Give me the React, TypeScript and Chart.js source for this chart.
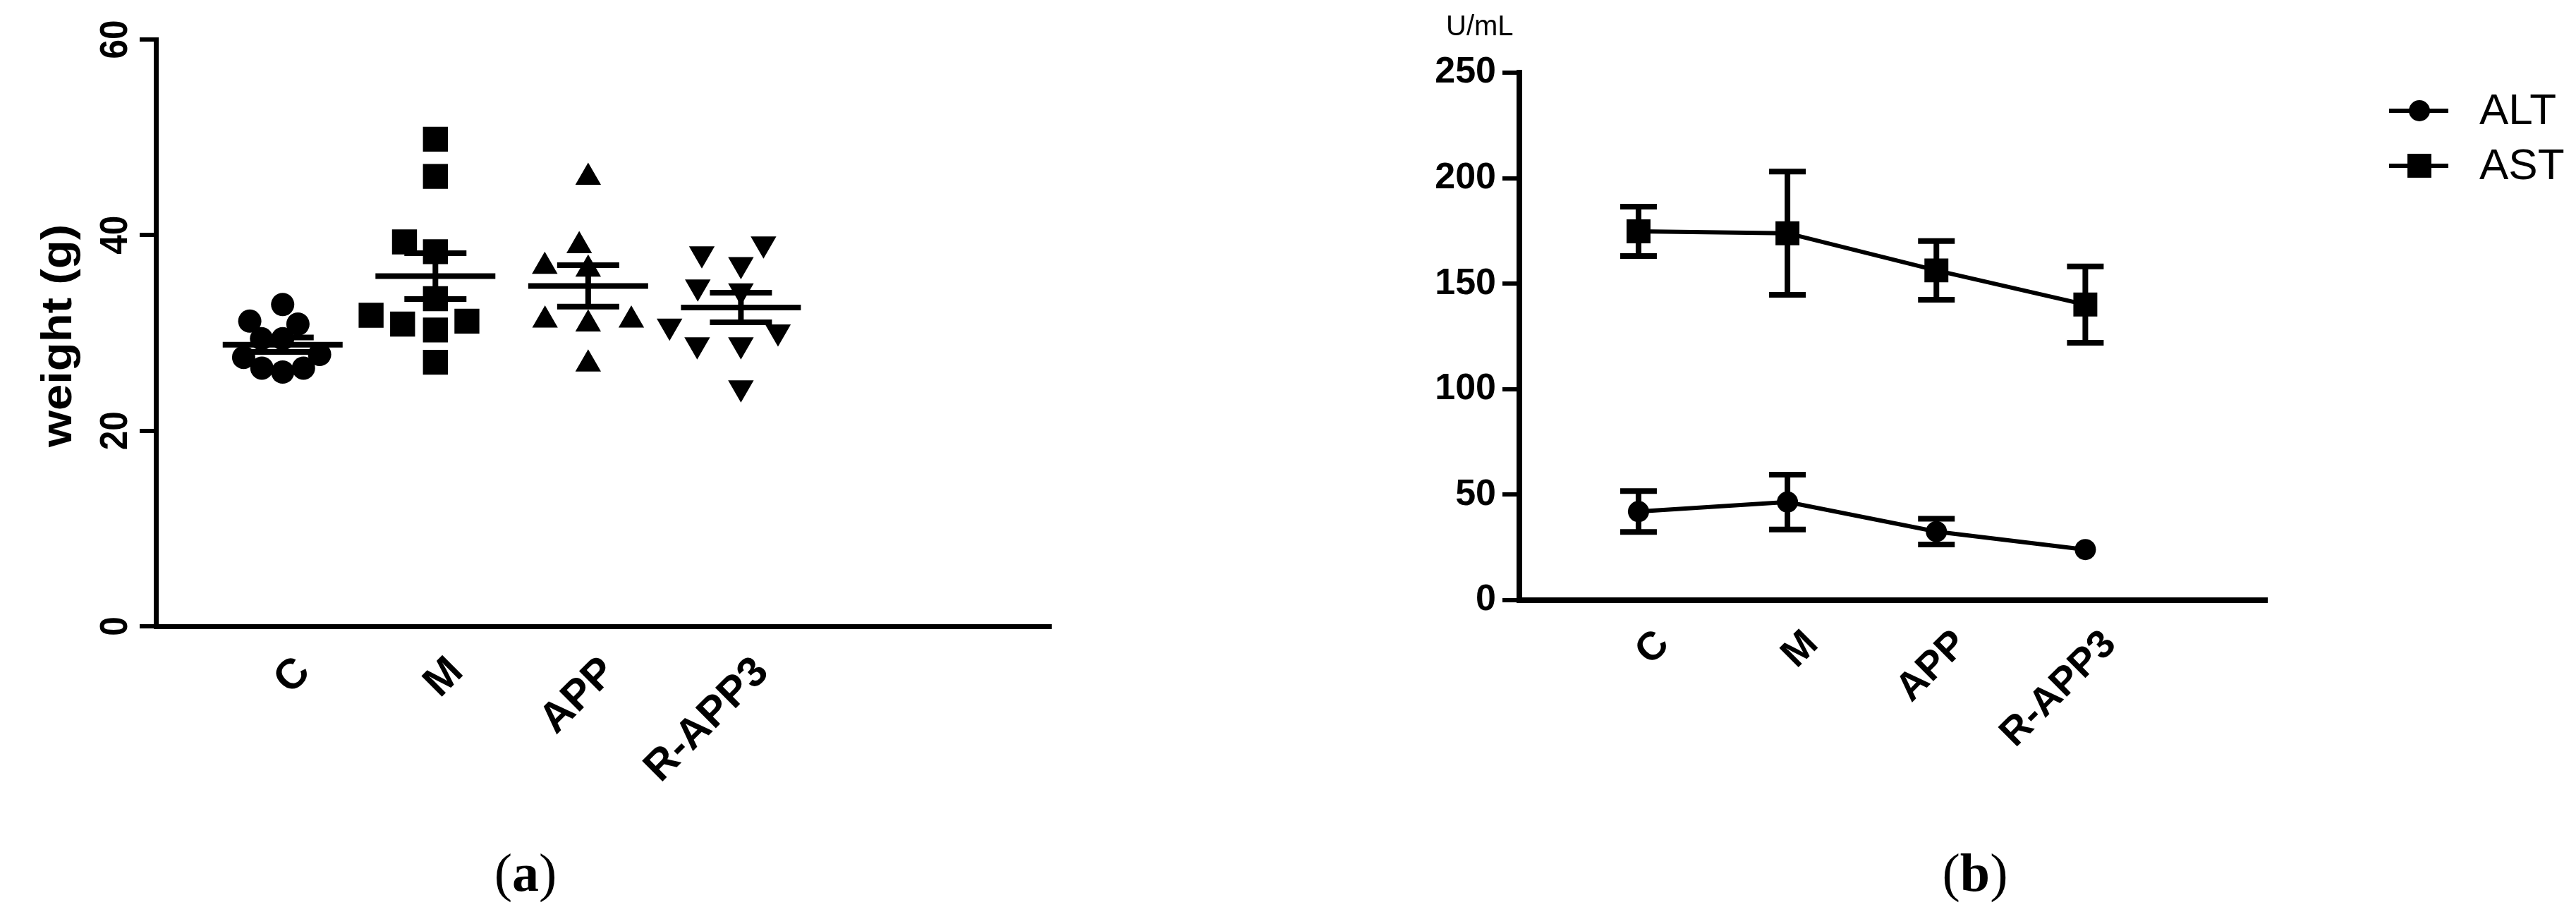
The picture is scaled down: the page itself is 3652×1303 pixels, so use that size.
import React, { useEffect, useRef } from 'react';
import { Chart, registerables } from 'chart.js';
Chart.register(...registerables);

// ---------- data ----------
const CATEGORIES = ['C', 'M', 'APP', 'R-APP3'];

// panel (a): body weight (g), individual animals
const WEIGHT_C = [32.9, 31.2, 30.9, 29.4, 29.4, 27.8, 27.5, 26.4, 26.0, 26.4];
const WEIGHT_M = [49.8, 46.0, 39.3, 38.3, 33.5, 31.8, 31.2, 30.9, 30.3, 27.0];
const WEIGHT_APP = [45.9, 38.9, 36.8, 36.5, 31.3, 30.9, 31.3, 26.8];
const WEIGHT_RAPP3 = [39.1, 38.1, 37.0, 34.7, 34.3, 30.7, 30.1, 28.8, 28.8, 24.4];
const WEIGHT_GROUPS = [WEIGHT_C, WEIGHT_M, WEIGHT_APP, WEIGHT_RAPP3];
const WEIGHT_TICK_STEP = 20;
const WEIGHT_MAX = 60;

// panel (b): serum enzymes (U/mL), mean and SEM
const ALT_MEAN = [42.0, 46.5, 32.5, 24.0];
const ALT_SEM = [9.7, 13.0, 6.1, 1.5];
const AST_MEAN = [174.8, 173.9, 156.3, 140.1];
const AST_SEM = [11.7, 29.2, 13.9, 18.1];
const ENZYME_TICK_STEP = 50;
const ENZYME_MAX = 250;

// ---------- layout & styles ----------
const FONT = '"Liberation Sans", Arial, Helvetica, sans-serif';
const BLACK = '#000000';

// panel (a) canvas 1560x1160 at page (0,0)
const A_W = 1560;
const A_H = 1160;
const A_LEFT = 221;
const A_RIGHT = 1490;
const A_TOP = 56;
const A_BOTTOM = 888;
const A_XMIN = -0.83;
const A_XMAX = 5.03;
const A_PX_PER_CAT = (A_RIGHT - A_LEFT) / (A_XMAX - A_XMIN);
const A_PX_PER_UNIT = (A_BOTTOM - A_TOP) / WEIGHT_MAX;

// panel (b) canvas 1752x1160 at page (1900,0)
const B_X = 1900;
const B_W = 1752;
const B_H = 1160;
const B_LEFT = 254;
const B_RIGHT = 1314;
const B_TOP = 103;
const B_BOTTOM = 851;
const B_XMIN = -0.8;
const B_XMAX = 4.22;

// marker look and swarm spacing (px) per group of panel (a)
const MARKERS_A = [
  { style: 'circle', radius: 16.5, rotation: 0, dx: 30, dy: 30 },
  { style: 'rect', radius: 25, rotation: 0, dx: 48, dy: 34 },
  { style: 'triangle', radius: 21, rotation: 0, dx: 62, dy: 34 },
  { style: 'triangle', radius: 21, rotation: 180, dx: 62, dy: 34 },
];
const MEAN_HALF_PX = 85;
const CAP_HALF_A_PX = 44;
const CAP_HALF_B_PX = 26;

// ---------- helpers ----------
const mean = (a: number[]) => a.reduce((s, v) => s + v, 0) / a.length;
const sem = (a: number[]) => {
  const m = mean(a);
  const sd = Math.sqrt(a.reduce((s, v) => s + (v - m) * (v - m), 0) / (a.length - 1));
  return sd / Math.sqrt(a.length);
};

// beeswarm: each marker goes to the free horizontal position closest to the column centre
function swarm(values: number[], DX: number, DY: number) {
  const order = values.map((_, i) => i).sort((a, b) => values[a] - values[b]);
  const placed: { x: number; y: number }[] = [];
  const xs = new Array(values.length).fill(0);
  const hits = (x: number, y: number) =>
    placed.some((p) => ((x - p.x) / DX) ** 2 + ((y - p.y) / DY) ** 2 < 0.999);
  for (const i of order) {
    const y = values[i] * A_PX_PER_UNIT;
    const cands = [0];
    for (const p of placed) {
      const dy = y - p.y;
      if (Math.abs(dy) < DY) {
        const dx = DX * Math.sqrt(1 - (dy / DY) ** 2);
        cands.push(p.x - dx, p.x + dx);
      }
    }
    cands.sort((a, b) => Math.abs(a) - Math.abs(b) || a - b);
    let chosen = 0;
    for (const c of cands) {
      if (!hits(c, y)) {
        chosen = c;
        break;
      }
    }
    placed.push({ x: chosen, y });
    xs[i] = chosen / A_PX_PER_CAT;
  }
  return xs;
}

function drawStretched(ctx: any, text: string, x: number, y: number, font: string, sx: number) {
  ctx.save();
  ctx.translate(x, y);
  ctx.rotate(-Math.PI / 2);
  ctx.scale(sx, 1);
  ctx.font = font;
  ctx.fillStyle = BLACK;
  ctx.textAlign = 'center';
  ctx.textBaseline = 'middle';
  ctx.fillText(text, 0, 0);
  ctx.restore();
}

// ---------- plugins ----------
const weightAxisText = {
  id: 'weightAxisText',
  afterDraw(chart: any) {
    const s = chart.scales.y;
    const ctx = chart.ctx;
    s.ticks.forEach((t: any) => {
      drawStretched(ctx, String(t.value), s.right - 56, s.getPixelForValue(t.value), `bold 55px ${FONT}`, 0.9);
    });
    drawStretched(ctx, 'weight (g)', 84, (s.top + s.bottom) / 2 + 4, `bold 62px ${FONT}`, 1.08);
  },
};

const errorBars = {
  id: 'errorBars',
  afterDatasetsDraw(chart: any) {
    const { ctx } = chart;
    const x = chart.scales.x;
    const y = chart.scales.y;
    chart.data.datasets.forEach((ds: any) => {
      const errs = ds.errors;
      if (!errs) return;
      ds.data.forEach((pt: any, i: number) => {
        const px = x.getPixelForValue(pt.x);
        const top = y.getPixelForValue(pt.y + errs[i]);
        const bot = y.getPixelForValue(pt.y - errs[i]);
        if ((bot - top) / 2 <= ds.pointRadius) return; // hidden behind the marker
        ctx.save();
        ctx.strokeStyle = BLACK;
        ctx.lineCap = 'butt';
        ctx.lineWidth = 8;
        ctx.beginPath();
        ctx.moveTo(px, top);
        ctx.lineTo(px, bot);
        ctx.moveTo(px - CAP_HALF_B_PX, top);
        ctx.lineTo(px + CAP_HALF_B_PX, top);
        ctx.moveTo(px - CAP_HALF_B_PX, bot);
        ctx.lineTo(px + CAP_HALF_B_PX, bot);
        ctx.stroke();
        ctx.restore();
      });
    });
  },
};

const seriesLegend = {
  id: 'seriesLegend',
  afterDraw(chart: any) {
    const ctx = chart.ctx;
    const x0 = 1487;
    chart.data.datasets.forEach((ds: any, i: number) => {
      const y = 157 + i * 78;
      ctx.save();
      ctx.strokeStyle = BLACK;
      ctx.lineWidth = ds.borderWidth;
      ctx.beginPath();
      ctx.moveTo(x0, y);
      ctx.lineTo(x0 + 84, y);
      ctx.stroke();
      ctx.fillStyle = BLACK;
      const cx = x0 + 43;
      if (ds.pointStyle === 'rect') {
        const h = ds.pointRadius * Math.SQRT1_2;
        ctx.fillRect(cx - h, y - h, 2 * h, 2 * h);
      } else {
        ctx.beginPath();
        ctx.arc(cx, y, ds.pointRadius, 0, Math.PI * 2);
        ctx.fill();
      }
      ctx.font = `62px ${FONT}`;
      ctx.textAlign = 'left';
      ctx.textBaseline = 'middle';
      ctx.fillText(ds.label, x0 + 128, y + 2);
      ctx.restore();
    });
  },
};

const unitLabel = {
  id: 'unitLabel',
  afterDraw(chart: any) {
    const ctx = chart.ctx;
    ctx.save();
    ctx.fillStyle = BLACK;
    ctx.font = `40px ${FONT}`;
    ctx.textAlign = 'left';
    ctx.textBaseline = 'alphabetic';
    ctx.fillText('U/mL', 150, 50);
    ctx.restore();
  },
};

const categoryTicks = (ax: any) => {
  ax.ticks = CATEGORIES.map((_, i) => ({ value: i }));
};

// ---------- chart configs ----------
function makeWeightChart(canvas: HTMLCanvasElement) {
  const meanHalf = MEAN_HALF_PX / A_PX_PER_CAT;
  const capHalf = CAP_HALF_A_PX / A_PX_PER_CAT;
  const summary: any[] = [];
  WEIGHT_GROUPS.forEach((g, i) => {
    const m = mean(g);
    const s = sem(g);
    summary.push({ x: i - meanHalf, y: m }, { x: i + meanHalf, y: m }, { x: i, y: null });
    summary.push({ x: i, y: m - s }, { x: i, y: m + s }, { x: i, y: null });
    summary.push({ x: i - capHalf, y: m + s }, { x: i + capHalf, y: m + s }, { x: i, y: null });
    summary.push({ x: i - capHalf, y: m - s }, { x: i + capHalf, y: m - s }, { x: i, y: null });
  });
  const pointSets = WEIGHT_GROUPS.map((g, gi) => {
    const mk = MARKERS_A[gi];
    const offs = swarm(g, mk.dx, mk.dy);
    return {
      type: 'scatter',
      label: CATEGORIES[gi],
      data: g.map((v, j) => ({ x: gi + offs[j], y: v })),
      pointStyle: mk.style,
      pointRadius: mk.radius,
      pointRotation: mk.rotation,
      pointBackgroundColor: BLACK,
      backgroundColor: BLACK,
      pointBorderColor: BLACK,
      borderColor: BLACK,
      pointBorderWidth: 0,
      clip: false,
    };
  });
  return new Chart(canvas, {
    type: 'scatter',
    data: {
      datasets: [
        {
          type: 'line',
          label: 'mean ± SEM',
          data: summary,
          borderColor: BLACK,
          borderWidth: 8,
          borderCapStyle: 'butt',
          pointRadius: 0,
          spanGaps: false,
          tension: 0,
          clip: false,
        } as any,
        ...(pointSets as any[]),
      ],
    },
    options: {
      responsive: false,
      animation: false,
      events: [],
      layout: { padding: { left: 0, top: A_TOP, right: A_W - A_RIGHT, bottom: 0 } },
      plugins: { legend: { display: false }, tooltip: { enabled: false } },
      scales: {
        x: {
          type: 'linear',
          min: A_XMIN,
          max: A_XMAX,
          afterBuildTicks: categoryTicks,
          afterFit: (ax: any) => {
            ax.height = A_H - A_BOTTOM;
          },
          grid: { display: false, drawTicks: false },
          border: { display: true, color: BLACK, width: 7 },
          ticks: {
            autoSkip: false,
            minRotation: 45,
            maxRotation: 45,
            padding: 30,
            labelOffset: 30,
            color: BLACK,
            font: { family: FONT, size: 60, weight: 'bold' },
            callback: (v: any) => CATEGORIES[v] ?? '',
          },
        },
        y: {
          type: 'linear',
          min: 0,
          max: WEIGHT_MAX,
          afterFit: (ax: any) => {
            ax.width = A_LEFT;
          },
          ticks: { stepSize: WEIGHT_TICK_STEP, display: false },
          grid: { drawOnChartArea: false, drawTicks: true, tickLength: 23, lineWidth: 6, color: BLACK },
          border: { display: true, color: BLACK, width: 7 },
        },
      },
    } as any,
    plugins: [weightAxisText],
  } as any);
}

function makeEnzymeChart(canvas: HTMLCanvasElement) {
  const series = (label: string, means: number[], errs: number[], style: string, radius: number) => ({
    label,
    data: means.map((v, i) => ({ x: i, y: v })),
    errors: errs,
    borderColor: BLACK,
    borderWidth: 6,
    pointStyle: style,
    pointRadius: radius,
    pointBackgroundColor: BLACK,
    pointBorderColor: BLACK,
    pointBorderWidth: 0,
    tension: 0,
    clip: false,
  });
  return new Chart(canvas, {
    type: 'line',
    data: {
      datasets: [
        series('ALT', ALT_MEAN, ALT_SEM, 'circle', 15) as any,
        series('AST', AST_MEAN, AST_SEM, 'rect', 24) as any,
      ],
    },
    options: {
      responsive: false,
      animation: false,
      events: [],
      layout: { padding: { left: 0, top: B_TOP, right: B_W - B_RIGHT, bottom: 0 } },
      plugins: { legend: { display: false }, tooltip: { enabled: false } },
      scales: {
        x: {
          type: 'linear',
          min: B_XMIN,
          max: B_XMAX,
          afterBuildTicks: categoryTicks,
          afterFit: (ax: any) => {
            ax.height = B_H - B_BOTTOM;
          },
          grid: { display: false, drawTicks: false },
          border: { display: true, color: BLACK, width: 8 },
          ticks: {
            autoSkip: false,
            minRotation: 45,
            maxRotation: 45,
            padding: 30,
            labelOffset: 35,
            color: BLACK,
            font: { family: FONT, size: 56, weight: 'bold' },
            callback: (v: any) => CATEGORIES[v] ?? '',
          },
        },
        y: {
          type: 'linear',
          min: 0,
          max: ENZYME_MAX,
          afterFit: (ax: any) => {
            ax.width = B_LEFT;
          },
          ticks: {
            stepSize: ENZYME_TICK_STEP,
            padding: 9,
            color: BLACK,
            font: { family: FONT, size: 52, weight: 'bold' },
          },
          grid: { drawOnChartArea: false, drawTicks: true, tickLength: 24, lineWidth: 6, color: BLACK },
          border: { display: true, color: BLACK, width: 8 },
        },
      },
    } as any,
    plugins: [errorBars, seriesLegend, unitLabel],
  } as any);
}

// ---------- component ----------
export default function App() {
  const refA = useRef<HTMLCanvasElement>(null);
  const refB = useRef<HTMLCanvasElement>(null);
  useEffect(() => {
    const a = makeWeightChart(refA.current as HTMLCanvasElement);
    const b = makeEnzymeChart(refB.current as HTMLCanvasElement);
    return () => {
      a.destroy();
      b.destroy();
    };
  }, []);
  const caption: React.CSSProperties = {
    position: 'absolute',
    top: 1237,
    transform: 'translate(-50%, -50%)',
    fontFamily: '"Liberation Serif", "DejaVu Serif", serif',
    fontSize: 76,
    lineHeight: 1,
    color: '#000',
    whiteSpace: 'nowrap',
  };
  return (
    <div
      style={{
        position: 'fixed',
        left: 0,
        top: 0,
        width: 3652,
        height: 1303,
        background: '#ffffff',
        overflow: 'hidden',
      }}
    >
      <canvas
        ref={refA}
        width={A_W}
        height={A_H}
        style={{ position: 'absolute', left: 0, top: 0, width: A_W, height: A_H }}
      />
      <canvas
        ref={refB}
        width={B_W}
        height={B_H}
        style={{ position: 'absolute', left: B_X, top: 0, width: B_W, height: B_H }}
      />
      <div style={{ ...caption, left: 745 }}>
        (<b>a</b>)
      </div>
      <div style={{ ...caption, left: 2800 }}>
        (<b>b</b>)
      </div>
    </div>
  );
}
